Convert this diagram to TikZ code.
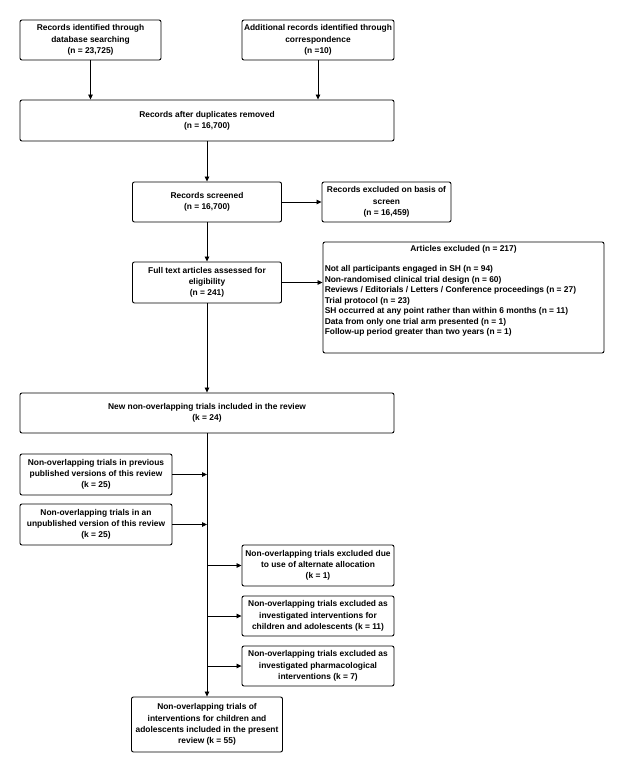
\documentclass[tikz,border=0pt]{standalone}
\usepackage{fontspec}
\setmainfont{Liberation Sans}
\usetikzlibrary{arrows.meta}

\begin{document}
\begin{tikzpicture}[x=1pt, y=-1pt,
  box/.style={draw, rounded corners=2pt, line width=0.9pt, align=center, inner sep=1pt,
    font=\fontsize{8.4}{11.2}\selectfont\bfseries},
  link/.style={line width=0.8pt, -{Triangle[length=5pt, width=4.5pt]}},
  txt/.style={inner sep=0pt, font=\fontsize{8.4}{10.5}\selectfont\bfseries}]
\def\xmid{207};
\def\xleft{90.5};
\def\xright{318};

\useasboundingbox (0,0) rectangle (626,773);

% identification
\node[box, minimum width=141pt, minimum height=40pt] (b1) at (\xleft, 40)
  {Records identified through\\database searching\\(n = 23,725)};
\node[box, minimum width=152pt, minimum height=40pt] (b2) at (\xright, 40)
  {Additional records identified through\\correspondence\\(n =10)};
\node[box, minimum width=374pt, minimum height=41pt] (b3) at (\xmid, 120.5)
  {Records after duplicates removed\\(n = 16,700)};

% screening
\node[box, minimum width=149pt, minimum height=40pt] (b4) at (\xmid, 202)
  {Records screened\\(n = 16,700)};
\node[box, minimum width=129pt, minimum height=40pt] (b5) at (386.5, 202)
  {Records excluded on basis of\\screen\\(n = 16,459)};
\node[box, minimum width=149pt, minimum height=41pt] (b6) at (\xmid, 282.5)
  {Full text articles assessed for\\eligibility\\(n = 241)};
\node[box, minimum width=281pt, minimum height=111pt] (b7) at (463.5, 297.5) {};
\node[txt, anchor=north] (b7t) at ([yshift=-4pt]b7.north) {Articles excluded (n = 217)};
\node[txt, anchor=north west, align=left] (b7l) at ([xshift=2pt, yshift=-24pt]b7.north west)
  {Not all participants engaged in SH (n = 94)\\
   Non-randomised clinical trial design (n = 60)\\
   Reviews / Editorials / Letters / Conference proceedings (n = 27)\\
   Trial protocol (n = 23)\\
   SH occurred at any point rather than within 6 months (n = 11)\\
   Data from only one trial arm presented (n = 1)\\
   Follow-up period greater than two years (n = 1)};

% included
\node[box, minimum width=374pt, minimum height=40pt] (b8) at (\xmid, 413)
  {New non-overlapping trials included in the review\\(k = 24)};
\node[box, minimum width=152pt, minimum height=41pt] (b9) at (96, 474.5)
  {Non-overlapping trials in previous\\published versions of this review\\(k = 25)};
\node[box, minimum width=152pt, minimum height=41pt] (b10) at (96, 524.5)
  {Non-overlapping trials in an\\unpublished version of this review\\(k = 25)};
\node[box, minimum width=152pt, minimum height=41pt] (b11) at (\xright, 565.5)
  {Non-overlapping trials excluded due\\to use of alternate allocation\\(k = 1)};
\node[box, minimum width=152pt, minimum height=40pt] (b12) at (\xright, 616)
  {Non-overlapping trials excluded as\\investigated interventions for\\children and adolescents (k = 11)};
\node[box, minimum width=152pt, minimum height=40pt] (b13) at (\xright, 666)
  {Non-overlapping trials excluded as\\investigated pharmacological\\interventions (k = 7)};
\node[box, minimum width=151pt, minimum height=55pt] (b14) at (\xmid, 724.5)
  {Non-overlapping trials of\\interventions for children and\\adolescents included in the present\\review (k = 55)};

% connector ends
\coordinate (e1) at (b1.south |- b3.north);
\coordinate (e2) at (b2.south |- b3.north);
\coordinate (e7) at (b6.east -| b7.west);
\coordinate (e9) at (b9.east -| b8.south);
\coordinate (e10) at (b10.east -| b8.south);
\coordinate (e11) at (b11.west -| b8.south);
\coordinate (e12) at (b12.west -| b8.south);
\coordinate (e13) at (b13.west -| b8.south);

\draw[link] (b1) -- (e1);
\draw[link] (b2) -- (e2);
\draw[link] (b3) -- (b4);
\draw[link] (b4) -- (b5);
\draw[link] (b4) -- (b6);
\draw[link] (b6) -- (e7);
\draw[link] (b6) -- (b8);
\draw[link] (b8) -- (b14);
\draw[link] (b9) -- (e9);
\draw[link] (b10) -- (e10);
\draw[link] (e11) -- (b11);
\draw[link] (e12) -- (b12);
\draw[link] (e13) -- (b13);

\end{tikzpicture}
\end{document}
